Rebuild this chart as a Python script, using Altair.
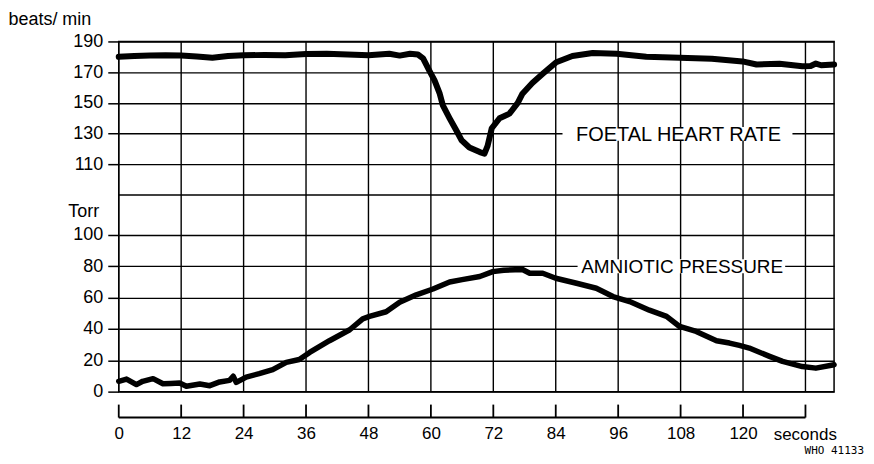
import altair as alt
import pandas as pd

# Foetal heart rate trace (seconds, beats/min)
fhr_t = [0, 3, 6, 9, 12, 15, 18, 21, 24, 28, 32, 36, 40, 44, 48, 52, 54, 56, 57.5, 58.5,
         59.7, 60.7, 61.7, 62.3, 63.6, 64.9, 65.9, 67.4, 69.4, 70.3, 70.9, 71.7, 73.2, 75.1,
         76.7, 77.6, 79.5, 81.5, 84.1, 87.2, 91.1, 95.7, 101.4, 107.8, 114, 119.9, 122.6,
         127, 131.4, 133, 134, 135, 137.5]
fhr_bpm = [180, 180.5, 180.8, 181, 180.8, 180.2, 179.4, 180.5, 181, 181.2, 181, 181.8, 182,
           181.5, 181, 182, 180.8, 182, 181.5, 179, 171, 164.7, 156, 148.4, 140, 132, 125.7,
           121, 118, 117, 122, 133.5, 140, 143, 150, 156, 163, 169, 176.5, 180.5, 182.5, 182,
           180, 179.4, 178.7, 177, 175, 175.5, 173.8, 174, 175.6, 174.5, 175]

# Amniotic pressure trace (seconds, Torr)
ap_t = [0, 1.5, 3.4, 4.6, 6.6, 8.5, 10, 11.7, 13, 15.6, 17.5, 19.4, 21.3, 22, 22.6, 24.5,
        27, 29.6, 32.2, 34.7, 36.7, 40.5, 44.4, 46.9, 48.2, 51.4, 54, 57.2, 60.4, 63.6, 66,
        69.4, 71.9, 74, 77.6, 79, 81.5, 84, 88, 91.8, 95, 98.2, 102, 105.3, 107.8, 111,
        114.9, 117.4, 119.3, 121.2, 125.1, 127.6, 131.4, 134, 137.5]
ap_torr = [6.6, 8, 4.5, 6.6, 8.3, 5, 5.2, 5.5, 3.4, 4.9, 3.8, 6.2, 7.2, 9.8, 5.9, 9.3, 11.5,
           14, 18.7, 20.5, 25, 32.5, 39.5, 46.5, 48, 51, 57, 61.8, 65.5, 70, 71.5, 73.5, 76.6,
           77.5, 78, 75.6, 75.6, 72.4, 69.2, 66, 60.7, 57.5, 52, 48, 41.6, 38.4, 32.5, 31,
           29.5, 27.8, 22.5, 19.3, 16, 15, 17.2]

x_ticks = [0, 12, 24, 36, 48, 60, 72, 84, 96, 108, 120, 132]
bpm_ticks = [110, 130, 150, 170, 190]
torr_ticks = [0, 20, 40, 60, 80, 100]

FONT = "Liberation Sans"
W, H = 717, 351

fhr_df = pd.DataFrame({"t": fhr_t, "bpm": fhr_bpm})
ap_df = pd.DataFrame({"t": ap_t, "torr": ap_torr})
xt_df = pd.DataFrame({"t": x_ticks})
xline_df = pd.DataFrame({"t": [0], "t2": [132]})

x_axis = alt.Axis(values=x_ticks, grid=False, ticks=False, domain=False, offset=26,
                  labelExpr="datum.value == 132 ? '' : datum.label", labelFlush=False,
                  labelPadding=8, labelFontSize=17, title="seconds", titleX=656, titleY=22,
                  titleAlign="left", titleBaseline="alphabetic", titleFontSize=17,
                  titleFontWeight="normal")
X = alt.X("t:Q", scale=alt.Scale(domain=[0, 137.5], nice=False, zero=False), axis=x_axis)

bpm_scale = alt.Scale(domain=[90, 190], range=[154, 0], nice=False, zero=False)
bpm_axis = alt.Axis(orient="left", values=bpm_ticks, grid=True, tickSize=11, labelPadding=5,
                    labelFontSize=18, domain=False, title="beats/ min", titleAngle=0,
                    titleX=-111, titleY=-17, titleAlign="left", titleBaseline="alphabetic",
                    titleFontSize=18, titleFontWeight="normal")
Y_bpm = alt.Y("bpm:Q", scale=bpm_scale, axis=bpm_axis)

torr_scale = alt.Scale(domain=[0, 100], range=[351, 194], nice=False, zero=False)
torr_axis = alt.Axis(orient="left", values=torr_ticks, grid=True, tickSize=11, labelPadding=5,
                     labelFontSize=18, domain=False, title="Torr", titleAngle=0,
                     titleX=-51, titleY=175, titleAlign="left", titleBaseline="alphabetic",
                     titleFontSize=18, titleFontWeight="normal")
Y_torr = alt.Y("torr:Q", scale=torr_scale, axis=torr_axis)

# ---- heart-rate group (also carries the vertical time grid)
vgrid = alt.Chart(xt_df).mark_rule(color="black", strokeWidth=1.4).encode(
    x=X, y=alt.value(0), y2=alt.value(H))
fhr_line = alt.Chart(fhr_df).mark_line(color="black", strokeWidth=6, strokeCap="round",
                                       strokeJoin="round").encode(x=X, y=Y_bpm)
fhr_base = alt.Chart(pd.DataFrame({"t": [0], "t2": [137.5], "bpm": [90]})).mark_rule(
    color="black", strokeWidth=1.5).encode(x=X, x2="t2:Q", y=Y_bpm)
fhr_box = alt.Chart(pd.DataFrame({"t": [85.3], "t2": [129.5], "bpm": [125.3], "bpm2": [134.3]})
                    ).mark_rect(color="white").encode(x=X, x2="t2:Q", y=Y_bpm, y2="bpm2:Q")
fhr_label = alt.Chart(pd.DataFrame({"t": [107.6], "bpm": [130], "label": ["FOETAL HEART RATE"]})
                      ).mark_text(font=FONT, fontSize=20, color="black", baseline="middle",
                                  align="center", dy=1).encode(x=X, y=Y_bpm, text="label:N")
fhr_group = alt.layer(vgrid, fhr_base, fhr_box, fhr_label, fhr_line)

# ---- pressure group
ap_line = alt.Chart(ap_df).mark_line(color="black", strokeWidth=5.5, strokeCap="round",
                                     strokeJoin="round").encode(x=X, y=Y_torr)
ap_box = alt.Chart(pd.DataFrame({"t": [88.2], "t2": [128.1], "torr": [75.5], "torr2": [84.5]})
                   ).mark_rect(color="white").encode(x=X, x2="t2:Q", y=Y_torr, y2="torr2:Q")
ap_label = alt.Chart(pd.DataFrame({"t": [108.3], "torr": [80], "label": ["AMNIOTIC PRESSURE"]})
                     ).mark_text(font=FONT, fontSize=19, color="black", baseline="middle",
                                 align="center", dy=1).encode(x=X, y=Y_torr, text="label:N")
x_line = alt.Chart(xline_df).mark_rule(color="black", strokeWidth=2).encode(
    x=X, x2="t2:Q", y=alt.value(377))
x_tick = alt.Chart(xt_df).mark_rule(color="black", strokeWidth=1.8).encode(
    x=X, y=alt.value(364), y2=alt.value(377))
who = alt.Chart(pd.DataFrame({"label": ["WHO 41133"]})).mark_text(
    font="DejaVu Sans Mono", fontSize=11, color="black", align="right", baseline="alphabetic"
).encode(x=alt.value(747), y=alt.value(414), text="label:N")
ap_group = alt.layer(ap_box, ap_label, ap_line, x_line, x_tick, who)

chart = alt.layer(fhr_group, ap_group).resolve_scale(y="independent").properties(
    width=W, height=H,
    autosize=alt.AutoSizeParams(type="none"),
    padding={"left": 111, "top": 33, "right": 32, "bottom": 64},
    background="white",
).configure_view(stroke="black", strokeWidth=1.5).configure_axis(
    labelFont=FONT, titleFont=FONT, labelColor="black", titleColor="black",
    tickColor="black", tickWidth=1.5, gridColor="black", gridWidth=1.4, gridOpacity=1,
)

chart.save("out.html", embed_options={"renderer": "svg", "actions": False})
